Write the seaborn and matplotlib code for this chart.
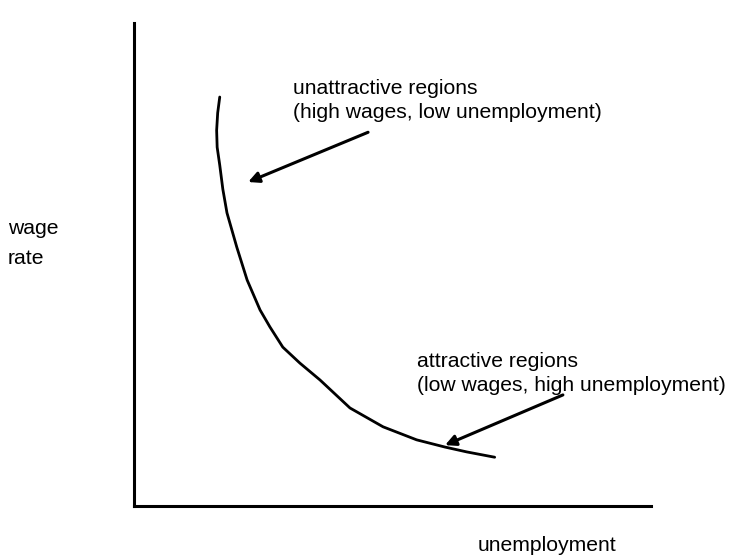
import matplotlib
matplotlib.use("Agg")
import matplotlib.pyplot as plt
import pandas as pd
import seaborn as sns

unemployment = [16.6, 16.2, 16.0, 16.1, 16.6, 17.2, 18.0, 19.9, 21.9, 24.4,
                26.3, 28.8, 32.1, 36.0, 41.8, 48.2, 54.7, 60.2, 64.4, 69.8]
wage_rate = [84.7, 81.4, 77.8, 74.3, 70.6, 65.6, 60.7, 53.6, 46.8, 40.6,
             37.1, 32.9, 29.6, 26.1, 20.3, 16.4, 13.7, 12.2, 11.2, 10.1]

# annotations: (label lines, text anchor, arrow tail, arrow head)
notes = [
    (["unattractive regions", "(high wages, low unemployment)"],
     (30.8, 86.5), (45.3, 77.4), (22.1, 67.1)),
    (["attractive regions", "(low wages, high unemployment)"],
     (54.7, 30.0), (83.0, 23.0), (60.2, 12.6)),
]

x_label = "unemployment"
y_label = ["wage", "rate"]


def main():
    sns.set_style("white")
    plt.rcParams["font.family"] = ["Liberation Sans", "DejaVu Sans"]
    plt.rcParams["text.color"] = "black"

    df = pd.DataFrame({"u": unemployment, "w": wage_rate})

    fig = plt.figure(figsize=(7.32, 5.55), dpi=100)
    ax = fig.add_axes([0.183, 0.0883, 0.706, 0.870])

    sns.lineplot(x="u", y="w", data=df, sort=False, estimator=None,
                 color="black", linewidth=2.0, ax=ax)

    fs = 15.2
    for lines, pos, tail, head in notes:
        ax.text(pos[0], pos[1], lines[0], fontsize=fs, va="center", ha="left")
        ax.text(pos[0], pos[1] - 5.1, lines[1], fontsize=fs, va="center", ha="left")
        ax.annotate("", xy=head, xytext=tail,
                    arrowprops=dict(arrowstyle="-|>", lw=2.2, color="black",
                                    mutation_scale=16, shrinkA=0, shrinkB=0))

    ax.set_xlim(0, 100)
    ax.set_ylim(0, 100)
    ax.set_xticks([])
    ax.set_yticks([])
    ax.set_xlabel("")
    ax.set_ylabel("")
    sns.despine(ax=ax)
    for side in ["left", "bottom"]:
        ax.spines[side].set_color("black")
        ax.spines[side].set_linewidth(2.2)

    fig.text(0.011, 0.589, y_label[0], fontsize=fs, va="center", ha="left")
    fig.text(0.011, 0.535, y_label[1], fontsize=fs, va="center", ha="left")
    fig.text(0.747, 0.018, x_label, fontsize=fs, va="center", ha="center")

    fig.savefig("out.png", dpi=100, facecolor="white")


if __name__ == "__main__":
    main()
